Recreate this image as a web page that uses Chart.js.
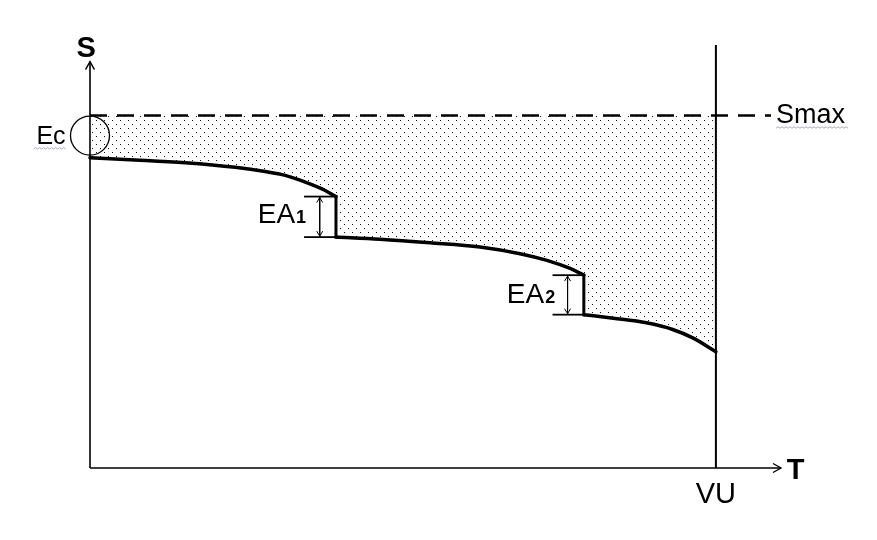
<!DOCTYPE html>
<html>
<head>
<meta charset="utf-8">
<script src="https://cdn.jsdelivr.net/npm/chart.js@4"></script>
<style>
  html, body { margin: 0; background: #fff; }
  #wrap { width: 877px; height: 540px; }
</style>
</head>
<body>
<div id="wrap"><canvas id="c"></canvas></div>
<script>
// Curve S(T), three pieces (T: 0..VU=100, S: Smax=100)
const seg1T = [0, 7.2, 15.2, 23.2, 28, 31.2, 34.4, 37.5, 39.3];
const seg1S = [88, 87.4, 86.6, 85.3, 84.1, 83, 81.1, 78.8, 77];
const seg2T = [39.3, 46.3, 54.3, 62.3, 68.7, 73, 76.7, 78.9];
const seg2S = [65.5, 64.9, 63.9, 62.7, 60.8, 58.9, 56.6, 54.7];
const seg3T = [78.9, 83.6, 88.9, 93.1, 96.3, 100];
const seg3S = [43.5, 42.5, 41.2, 39.3, 36.9, 33];

// EA1 / EA2 steps
const eaLabels = ['1', '2'];
const eaT = [36.7, 76.3];        // double arrow position
const eaTickT = [34.2, 73.9];    // start of the small ticks
const eaDropT = [39.3, 78.9];    // where the curve drops
const eaTop = [77, 54.7];
const eaBottom = [65.5, 43.5];

const smaxS = 100;
const vuT = 100;
const ecS = 94.3;
const tMax = 110.4;
const sMax = 120;
const sAxisTop = 115.3;

const FONT = '"Liberation Sans", Arial, sans-serif';

const pts = (ts, ss) => ts.map((t, i) => ({ x: t, y: ss[i] }));
const line = (data, extra) => Object.assign({
  data, borderColor: '#000', borderWidth: 1.5, pointRadius: 0, fill: false, clip: false
}, extra);

const canvas = document.getElementById('c');
const mainCtx = canvas.getContext('2d');

// dotted fill
const pc = document.createElement('canvas');
pc.width = 8; pc.height = 8;
const pg = pc.getContext('2d');
pg.fillStyle = '#111';
pg.fillRect(0, 0, 1, 1);
pg.fillRect(4, 4, 1, 1);
const dots = mainCtx.createPattern(pc, 'repeat');

const curveStyle = {
  borderWidth: 3.5, cubicInterpolationMode: 'monotone',
  fill: { value: smaxS }, backgroundColor: dots, borderCapStyle: 'round'
};

const datasets = [
  line(pts(seg1T, seg1S), curveStyle),
  line(pts(seg2T, seg2S), curveStyle),
  line(pts(seg3T, seg3S), curveStyle),
  // vertical drops
  line([{ x: seg1T[seg1T.length - 1], y: seg1S[seg1S.length - 1] }, { x: seg2T[0], y: seg2S[0] }], { borderWidth: 3, borderCapStyle: 'square' }),
  line([{ x: seg2T[seg2T.length - 1], y: seg2S[seg2S.length - 1] }, { x: seg3T[0], y: seg3S[0] }], { borderWidth: 3, borderCapStyle: 'square' }),
  // Smax dashed line
  line([{ x: 0, y: smaxS }, { x: 108.8, y: smaxS }], { borderWidth: 2.6, borderDash: [17, 10] }),
  // VU line
  line([{ x: vuT, y: 0 }, { x: vuT, y: sMax }], { borderWidth: 2 }),
  // axes
  line([{ x: 0, y: 0 }, { x: tMax, y: 0 }], { borderWidth: 1.6 }),
  line([{ x: 0, y: 0 }, { x: 0, y: sAxisTop }], { borderWidth: 1.6 }),
  // Ec circle
  line([{ x: 0, y: ecS }], { showLine: false, pointRadius: 19.5, pointBorderWidth: 1.3,
    pointBorderColor: '#000', pointBackgroundColor: 'rgba(0,0,0,0)' })
];

eaT.forEach((t, i) => {
  datasets.push(line([{ x: eaTickT[i], y: eaTop[i] }, { x: eaDropT[i], y: eaTop[i] }], { borderWidth: 1.8 }));
  datasets.push(line([{ x: eaTickT[i], y: eaBottom[i] }, { x: eaDropT[i], y: eaBottom[i] }], { borderWidth: 1.8 }));
  datasets.push(line([{ x: t, y: eaTop[i] }, { x: t, y: eaBottom[i] }], { borderWidth: 1 }));
});

function arrowHead(ctx, x, y, dx, dy, len, half, w) {
  // open V arrow head pointing in direction (dx, dy)
  const nx = -dy, ny = dx;
  ctx.save();
  ctx.strokeStyle = '#000';
  ctx.lineWidth = w;
  ctx.beginPath();
  ctx.moveTo(x - dx * len + nx * half, y - dy * len + ny * half);
  ctx.lineTo(x, y);
  ctx.lineTo(x - dx * len - nx * half, y - dy * len - ny * half);
  ctx.stroke();
  ctx.restore();
}

function squiggle(ctx, x0, x1, y) {
  ctx.save();
  ctx.strokeStyle = '#a8a8c8';
  ctx.lineWidth = 1;
  ctx.beginPath();
  let up = true;
  ctx.moveTo(x0, y);
  for (let x = x0 + 2; x <= x1; x += 2) {
    ctx.lineTo(x, up ? y - 1.5 : y);
    up = !up;
  }
  ctx.stroke();
  ctx.restore();
}

const annotations = {
  id: 'annotations',
  afterDatasetsDraw(chart) {
    const { ctx } = chart;
    const xs = chart.scales.x, ys = chart.scales.y;
    const px = v => xs.getPixelForValue(v);
    const py = v => ys.getPixelForValue(v);

    // axis arrows
    arrowHead(ctx, px(0), py(sAxisTop), 0, -1, 8, 4.5, 1.4);
    arrowHead(ctx, px(tMax), py(0), 1, 0, 8, 4.5, 1.4);

    // EA double arrows
    eaT.forEach((t, i) => {
      arrowHead(ctx, px(t), py(eaTop[i]) + 1, 0, -1, 5, 3, 1);
      arrowHead(ctx, px(t), py(eaBottom[i]) - 1, 0, 1, 5, 3, 1);
    });

    ctx.save();
    ctx.fillStyle = '#000';
    ctx.textBaseline = 'alphabetic';

    // axis titles
    ctx.font = 'bold 29px ' + FONT;
    ctx.textAlign = 'center';
    ctx.fillText('S', px(-0.6), py(116.5));
    ctx.textAlign = 'left';
    ctx.fillText('T', px(111.3), py(-3.1));

    // VU
    ctx.font = '29px ' + FONT;
    ctx.textAlign = 'center';
    ctx.fillText('VU', px(vuT), py(-9.9));

    // Smax
    ctx.font = '27px ' + FONT;
    ctx.textAlign = 'left';
    ctx.fillText('Smax', px(109.6), py(97.8));
    squiggle(ctx, px(109.6), px(109.6) + 72, py(97.8) + 5);

    // Ec
    ctx.font = '25px ' + FONT;
    ctx.textAlign = 'right';
    ctx.fillText('Ec', px(-3.9), py(91.9));
    squiggle(ctx, px(-3.9) - 32, px(-3.9), py(91.9) + 5);

    // EA labels
    ctx.textAlign = 'left';
    const eaX = [26.8, 66.6];
    const eaY = [69.4, 46.8];
    eaLabels.forEach((lab, i) => {
      ctx.font = '28px ' + FONT;
      const x0 = px(eaX[i]), y0 = py(eaY[i]);
      ctx.fillText('EA', x0, y0);
      const w = ctx.measureText('EA').width;
      ctx.font = 'bold 18px ' + FONT;
      ctx.fillText(lab, x0 + w + 1, y0);
    });
    ctx.restore();
  }
};

new Chart(canvas, {
  type: 'line',
  data: { datasets },
  options: {
    responsive: true,
    maintainAspectRatio: false,
    animation: false,
    layout: { padding: { left: 90, right: 96, top: 45, bottom: 72 } },
    plugins: { legend: { display: false }, tooltip: { enabled: false } },
    scales: {
      x: { type: 'linear', min: 0, max: tMax, display: false },
      y: { type: 'linear', min: 0, max: sMax, display: false }
    }
  },
  plugins: [annotations]
});
</script>
</body>
</html>
